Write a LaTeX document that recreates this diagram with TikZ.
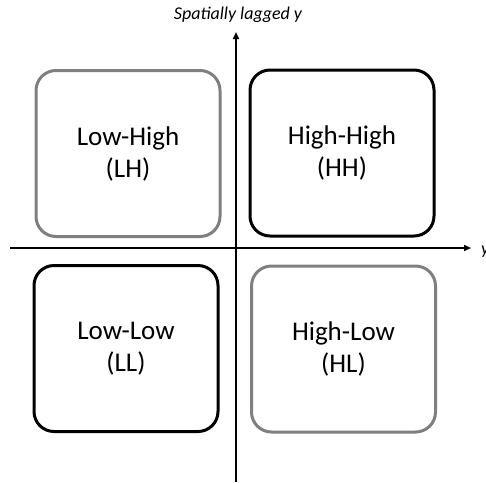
\documentclass[tikz,border=0pt]{standalone}
\usepackage{fontspec}
\setmainfont{Carlito}
\usetikzlibrary{arrows.meta}
\definecolor{boxgray}{HTML}{7F7F7F}
\tikzset{
  quad/.style={draw, line width=3pt, rounded corners=20pt, minimum width=184pt, minimum height=166pt, align=center, font=\fontsize{27}{32}\selectfont, inner sep=0pt},
  graybox/.style={quad, draw=boxgray},
  blackbox/.style={quad, draw=black},
  axis/.style={line width=2pt, -{Triangle[length=7pt,width=6pt]}}
}
\begin{document}
\begin{tikzpicture}[x=1pt,y=-1pt]
\useasboundingbox (0,0) rectangle (486,482);
\node[graybox] (LH) at (128,153.5) {Low-High\\(LH)};
\node[blackbox] (HH) at (342,153) {High-High\\(HH)};
\node[blackbox] (LL) at (126,348.5) {Low-Low\\(LL)};
\node[graybox] (HL) at (343.5,349) {High-Low\\(HL)};
\coordinate (vb) at (236,482);
\coordinate (vt) at (236,32);
\coordinate (hl) at (10,248);
\coordinate (hr) at (471,248);
\draw[axis] (vb) -- (vt);
\draw[axis] (hl) -- (hr);
\node[font=\fontsize{18}{20}\selectfont\itshape] (ylab) at (238,15) {Spatially lagged y};
\node[font=\fontsize{18}{20}\selectfont\itshape, anchor=west, inner sep=0pt] (xlab) at (481,252) {y};
\end{tikzpicture}
\end{document}
